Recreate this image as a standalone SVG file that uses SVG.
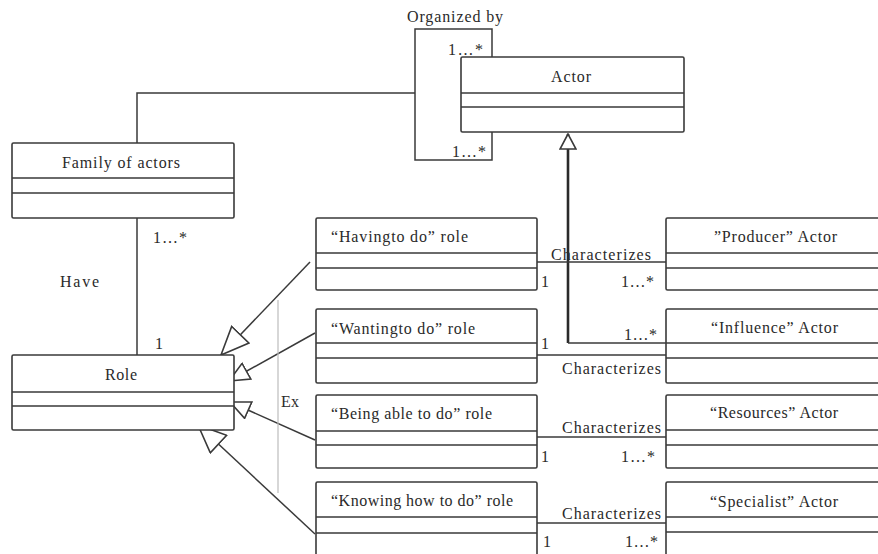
<svg xmlns="http://www.w3.org/2000/svg" width="878" height="554" viewBox="0 0 878 554">
<style>
.box{fill:#fff;stroke:#3a3a3a;stroke-width:1.6}
.sep{stroke:#3a3a3a;stroke-width:1.6;fill:none}
.ln{stroke:#3a3a3a;stroke-width:1.5;fill:none}
.t{font-family:"Liberation Serif","Times New Roman",serif;font-size:16px;fill:#2a2a2a}
</style>
<defs>
<marker id="genL" markerUnits="userSpaceOnUse" markerWidth="30" markerHeight="26" viewBox="0 0 30 26" refX="29" refY="13" orient="auto">
<path d="M29,13 L1,1 L1,25 Z" fill="#fff" stroke="#3a3a3a" stroke-width="1.6"/>
</marker>
<marker id="genS" markerUnits="userSpaceOnUse" markerWidth="22" markerHeight="20" viewBox="0 0 22 20" refX="21" refY="10" orient="auto">
<path d="M21,10 L1,1 L1,19 Z" fill="#fff" stroke="#3a3a3a" stroke-width="1.6"/>
</marker>
<marker id="genA" markerUnits="userSpaceOnUse" markerWidth="18" markerHeight="18" viewBox="0 0 18 18" refX="17" refY="9" orient="auto">
<path d="M17,9 L2,1 L2,17 Z" fill="#fff" stroke="#3a3a3a" stroke-width="1.6"/>
</marker>
</defs>

<g id="connectors">
<path class="ln" d="M492,57 V29 H415 V160 H492 V132"/>
<path class="ln" d="M137,143 V93 H415"/>
<path class="ln" d="M137,218 V355"/>
<path d="M568,343 V134" stroke="#2a2a2a" stroke-width="2.6" fill="none" marker-end="url(#genA)"/>
<path class="ln" d="M568,343 H666"/>
<path class="ln" d="M537,262 H666"/>
<path class="ln" d="M537,355 H666"/>
<path class="ln" d="M537,437 H666"/>
<path class="ln" d="M537,523 H666"/>
<path class="ln" d="M310,262 L221,355" marker-end="url(#genL)"/>
<path class="ln" d="M315,333 L229,381" marker-end="url(#genS)"/>
<path class="ln" d="M315,440 L230,402" marker-end="url(#genS)"/>
<path class="ln" d="M315,534 L198,425" marker-end="url(#genL)"/>
<path d="M278,300 V493" stroke="#bdbdbd" stroke-width="1.2"/>
<text class="t" x="407" y="22" textLength="96">Organized by</text>
<text class="t" x="448" y="55" textLength="35">1…*</text>
<text class="t" x="452" y="157" textLength="34">1…*</text>
<text class="t" x="153" y="243" textLength="34">1…*</text>
<text class="t" x="60" y="287" textLength="39">Have</text>
<text class="t" x="155" y="349">1</text>
<text class="t" x="281" y="407" textLength="18">Ex</text>
<text class="t" x="551" y="260" textLength="100">Characterizes</text>
<text class="t" x="541" y="287">1</text>
<text class="t" x="621" y="287" textLength="33">1…*</text>
<text class="t" x="624" y="340" textLength="33">1…*</text>
<text class="t" x="541" y="349">1</text>
<text class="t" x="562" y="374" textLength="99">Characterizes</text>
<text class="t" x="562" y="433" textLength="99">Characterizes</text>
<text class="t" x="541" y="462">1</text>
<text class="t" x="621" y="462" textLength="34">1…*</text>
<text class="t" x="562" y="519" textLength="99">Characterizes</text>
<text class="t" x="543" y="547">1</text>
<text class="t" x="625" y="547" textLength="33">1…*</text>
</g>

<g id="actor">
<rect class="box" x="461" y="57" width="223" height="75" rx="1.5"/>
<path class="sep" d="M461,93 H684 M461,107 H684"/>
<text class="t" x="551" y="82" textLength="40">Actor</text>
</g>

<g id="family">
<rect class="box" x="12" y="143" width="222" height="75" rx="1.5"/>
<path class="sep" d="M12,178 H234 M12,193 H234"/>
<text class="t" x="62" y="168" textLength="118">Family of actors</text>
</g>

<g id="role">
<rect class="box" x="12" y="355" width="222" height="75" rx="1.5"/>
<path class="sep" d="M12,392 H234 M12,406 H234"/>
<text class="t" x="105" y="380" textLength="32">Role</text>
</g>

<g id="having">
<rect class="box" x="316" y="218" width="221" height="72" rx="1.5"/>
<path class="sep" d="M316,253 H537 M316,268 H537"/>
<text class="t" x="331" y="242" textLength="137">“Havingto do” role</text>
</g>

<g id="wanting">
<rect class="box" x="316" y="309" width="221" height="74" rx="1.5"/>
<path class="sep" d="M316,343 H537 M316,358 H537"/>
<text class="t" x="331" y="334" textLength="144">“Wantingto do” role</text>
</g>

<g id="being">
<rect class="box" x="316" y="395" width="221" height="73" rx="1.5"/>
<path class="sep" d="M316,431 H537 M316,445 H537"/>
<text class="t" x="331" y="419" textLength="161">“Being able to do” role</text>
</g>

<g id="knowing">
<rect class="box" x="316" y="482" width="221" height="76" rx="1.5"/>
<path class="sep" d="M316,517 H537 M316,533 H537"/>
<text class="t" x="331" y="506" textLength="182">“Knowing how to do” role</text>
</g>

<g id="producer">
<rect class="box" x="666" y="218" width="222" height="72" rx="1.5"/>
<path class="sep" d="M666,253 H888 M666,268 H888"/>
<text class="t" x="714" y="242" textLength="123">”Producer” Actor</text>
</g>

<g id="influence">
<rect class="box" x="666" y="309" width="222" height="74" rx="1.5"/>
<path class="sep" d="M666,343 H888 M666,358 H888"/>
<text class="t" x="711" y="333" textLength="127">“Influence” Actor</text>
</g>

<g id="resources">
<rect class="box" x="666" y="395" width="222" height="73" rx="1.5"/>
<path class="sep" d="M666,430 H888 M666,445 H888"/>
<text class="t" x="710" y="418" textLength="128">“Resources” Actor</text>
</g>

<g id="specialist">
<rect class="box" x="666" y="482" width="222" height="76" rx="1.5"/>
<path class="sep" d="M666,517 H888 M666,532 H888"/>
<text class="t" x="710" y="507" textLength="128">“Specialist” Actor</text>
</g>
</svg>
